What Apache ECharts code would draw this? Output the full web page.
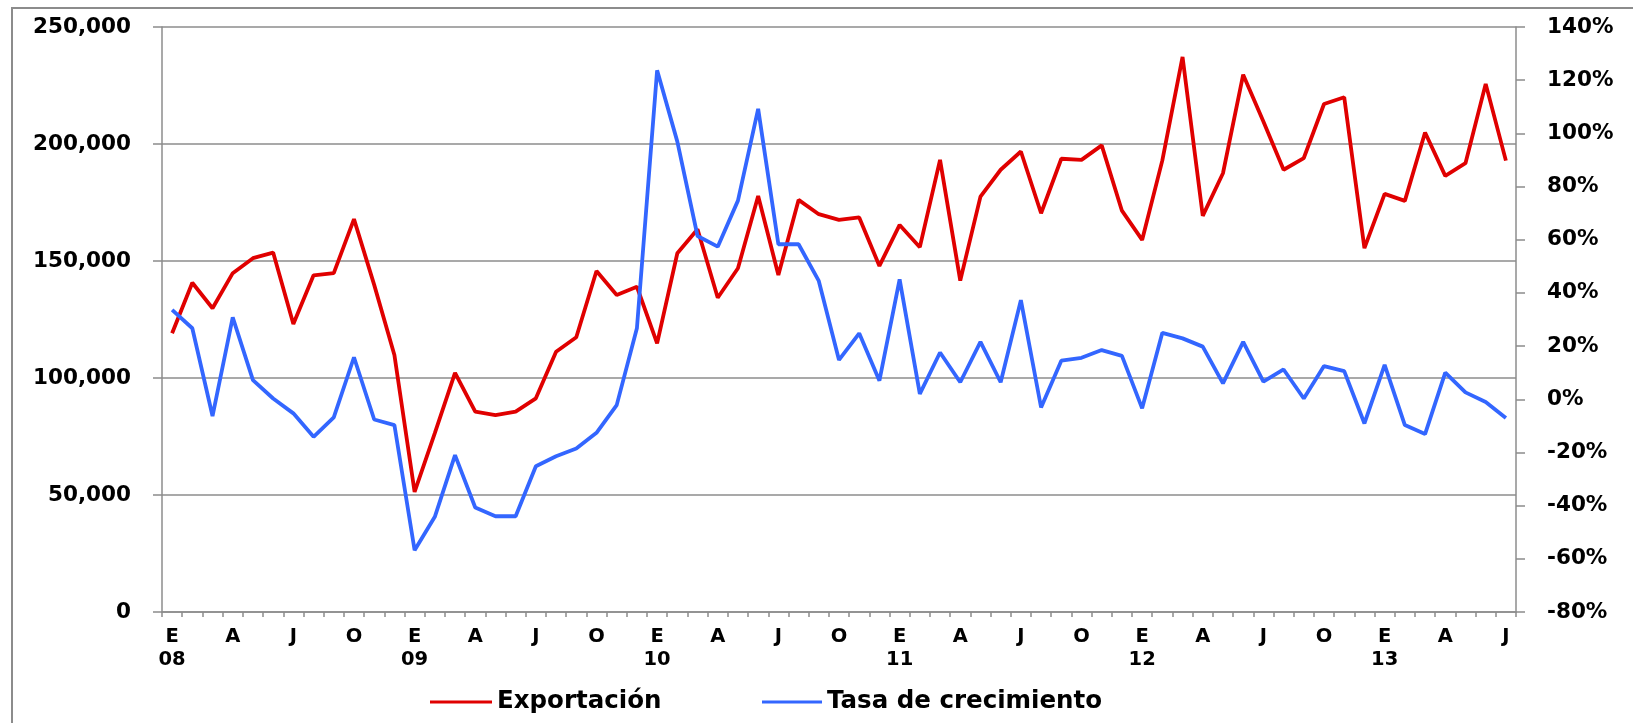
<!DOCTYPE html>
<html>
<head>
<meta charset="utf-8">
<script src="https://cdn.jsdelivr.net/npm/echarts@6/dist/echarts.min.js"></script>
<style>
  html, body { margin: 0; padding: 0; background: #fff; }
  #chart { width: 1633px; height: 723px; }
</style>
</head>
<body>
<div id="chart"></div>
<script>
// meses ene-2008 .. jul-2013
var meses = [
  'ene-08','feb-08','mar-08','abr-08','may-08','jun-08','jul-08','ago-08','sep-08','oct-08','nov-08','dic-08',
  'ene-09','feb-09','mar-09','abr-09','may-09','jun-09','jul-09','ago-09','sep-09','oct-09','nov-09','dic-09',
  'ene-10','feb-10','mar-10','abr-10','may-10','jun-10','jul-10','ago-10','sep-10','oct-10','nov-10','dic-10',
  'ene-11','feb-11','mar-11','abr-11','may-11','jun-11','jul-11','ago-11','sep-11','oct-11','nov-11','dic-11',
  'ene-12','feb-12','mar-12','abr-12','may-12','jun-12','jul-12','ago-12','sep-12','oct-12','nov-12','dic-12',
  'ene-13','feb-13','mar-13','abr-13','may-13','jun-13','jul-13'
]

// letra que se muestra en el eje x
var letraMes = { ene: 'E', abr: 'A', jul: 'J', oct: 'O' }

var exportacion = [
  119100, 140700, 129800, 144800, 151200, 153600, 123100, 143900, 144800, 167900, 139800, 109800,
  51300, 76400, 102200, 85600, 84100, 85600, 91300, 111200, 117400, 145700, 135500, 139000,
  114800, 153300, 163600, 134300, 146900, 177800, 144000, 176100, 170000, 167600, 168600, 147900,
  165400, 155900, 193200, 141600, 177500, 189000, 196800, 170400, 193700, 193200, 199400, 171500,
  159000, 193000, 237200, 169300, 187500, 229600, 209600, 189000, 194000, 217100, 220000, 155500,
  178700, 175700, 204900, 186400, 191800, 225700, 192900
]

// tasa de crecimiento anual (%)
var tasa = [
  33.6, 26.7, -6.3, 30.8, 7.2, 0.3, -5.3, -14.1, -6.8, 15.8, -7.6, -9.7,
  -56.8, -44.2, -21.0, -40.7, -44.0, -44.0, -25.2, -21.4, -18.5, -12.6, -2.2, 26.7,
  123.7, 96.9, 61.4, 57.4, 74.7, 109.2, 58.3, 58.3, 44.5, 14.8, 24.8, 7.0,
  45.1, 2.0, 17.6, 6.4, 21.6, 6.4, 37.3, -3.1, 14.5, 15.6, 18.5, 16.3,
  -3.4, 25.0, 22.9, 19.8, 6.0, 21.6, 6.6, 11.2, 0.3, 12.5, 10.6, -9.1,
  12.9, -9.7, -13.1, 10.0, 2.6, -1.0, -7.0
]

var fuente = 'DejaVu Sans'
var gris = '#8c8c8c'
var textoLeyenda = { fontFamily: fuente, fontSize: 24.5, fontWeight: 'bold', color: '#000', lineHeight: 28 }

var chart = echarts.init(document.getElementById('chart'))

var option = {
  animation: false,
  backgroundColor: '#fff',
  // marco exterior
  graphic: [{
    type: 'rect',
    shape: { x: 12, y: 8, width: 1800, height: 900 },
    style: { fill: 'none', stroke: gris, lineWidth: 2 },
    silent: true
  }],
  grid: { left: 162, right: 117, top: 27, bottom: 111 },
  legend: [
    {
      data: ['Exportación'], left: 430, top: 688, padding: 0,
      icon: 'rect', itemWidth: 62, itemHeight: 3,
      textStyle: textoLeyenda
    },
    {
      data: ['Tasa de crecimiento'], left: 762, top: 688, padding: 0,
      icon: 'rect', itemWidth: 60, itemHeight: 3,
      textStyle: textoLeyenda
    }
  ],
  xAxis: {
    type: 'category',
    data: meses,
    boundaryGap: true,
    axisLine: { lineStyle: { color: gris, width: 1.5 } },
    axisTick: { show: true, interval: 0, length: 5, lineStyle: { color: gris, width: 1.5 } },
    axisLabel: {
      interval: 0,
      margin: 13,
      fontFamily: fuente,
      fontSize: 19.5,
      fontWeight: 'bold',
      color: '#000',
      lineHeight: 23,
      formatter: function (v) {
        var p = v.split('-')
        var l = letraMes[p[0]]
        if (!l) return ''
        return p[0] === 'ene' ? l + '\n' + p[1] : l
      }
    },
    splitLine: { show: false }
  },
  yAxis: [
    {
      type: 'value',
      min: 0, max: 250000, interval: 50000,
      axisLine: { show: true, lineStyle: { color: gris, width: 1.5 } },
      axisTick: { show: true, length: 9, lineStyle: { color: gris, width: 1.5 } },
      axisLabel: {
        margin: 31,
        fontFamily: fuente, fontSize: 21.5, fontWeight: 'bold', color: '#000',
        formatter: function (v) { return v.toLocaleString('en-US') }
      },
      splitLine: { show: true, lineStyle: { color: gris, width: 1.5 } }
    },
    {
      type: 'value',
      min: -80, max: 140, interval: 20,
      position: 'right',
      axisLine: { show: true, lineStyle: { color: gris, width: 1.5 } },
      axisTick: { show: true, length: 9, lineStyle: { color: gris, width: 1.5 } },
      axisLabel: {
        margin: 31,
        fontFamily: fuente, fontSize: 21.5, fontWeight: 'bold', color: '#000',
        formatter: '{value}%'
      },
      splitLine: { show: false }
    }
  ],
  series: [
    {
      name: 'Exportación',
      type: 'line',
      yAxisIndex: 0,
      data: exportacion,
      showSymbol: false,
      symbol: 'none',
      color: '#e00000',
      lineStyle: { color: '#e00000', width: 3.8 }
    },
    {
      name: 'Tasa de crecimiento',
      type: 'line',
      yAxisIndex: 1,
      data: tasa,
      showSymbol: false,
      symbol: 'none',
      color: '#3366ff',
      lineStyle: { color: '#3366ff', width: 3.8 }
    }
  ]
}

chart.setOption(option)
</script>
</body>
</html>
